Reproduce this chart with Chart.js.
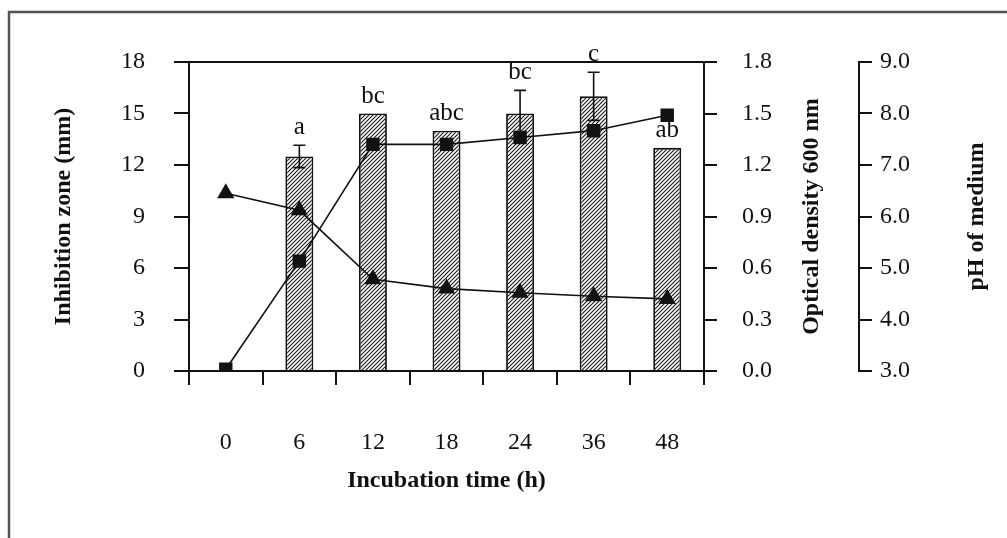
<!DOCTYPE html>
<html><head><meta charset="utf-8">
<script src="https://cdn.jsdelivr.net/npm/chart.js@4.4.1/dist/chart.umd.min.js"></script>
<style>html,body{margin:0;padding:0;background:#fff;overflow:hidden}canvas{display:block}</style>
</head><body>
<canvas id="c" width="1007" height="538"></canvas>
<script>
// ---- data ----
const categories = ['0', '6', '12', '18', '24', '36', '48'];
const inhibitionZone = [null, 12.5, 15, 14, 15, 16, 13];
const inhibitionError = [0, 0.65, 0, 0, 1.35, 1.4, 0];
const significance = ['', 'a', 'bc', 'abc', 'bc', 'c', 'ab'];
const opticalDensity = [0.01, 0.64, 1.32, 1.32, 1.36, 1.40, 1.49];
const phMedium = [6.45, 6.12, 4.78, 4.6, 4.52, 4.45, 4.4];
const zoneTicks = [0, 3, 6, 9, 12, 15, 18];
const zoneTickLabels = ['0', '3', '6', '9', '12', '15', '18'];
const odTicks = [0, 0.3, 0.6, 0.9, 1.2, 1.5, 1.8];
const odTickLabels = ['0.0', '0.3', '0.6', '0.9', '1.2', '1.5', '1.8'];
const phTicks = [3, 4, 5, 6, 7, 8, 9];
const phTickLabels = ['3.0', '4.0', '5.0', '6.0', '7.0', '8.0', '9.0'];
const titles = {
  x: 'Incubation time (h)',
  y: 'Inhibition zone (mm)',
  y2: 'Optical density 600 nm',
  y3: 'pH of medium'
};

const SERIF = "'Liberation Serif', 'Times New Roman', 'DejaVu Serif', serif";
const INK = '#111';

// hatch pattern
function makeHatch() {
  const s = 4;
  const c = document.createElement('canvas');
  c.width = s; c.height = s;
  const g = c.getContext('2d');
  g.fillStyle = '#fff'; g.fillRect(0, 0, s, s);
  g.strokeStyle = '#1a1a1a'; g.lineWidth = 1.15;
  g.beginPath();
  g.moveTo(-1, 1); g.lineTo(1, -1);
  g.moveTo(0, s); g.lineTo(s, 0);
  g.moveTo(s - 1, s + 1); g.lineTo(s + 1, s - 1);
  g.stroke();
  const ctx = document.getElementById('c').getContext('2d');
  return ctx.createPattern(c, 'repeat');
}

const framePlugin = {
  id: 'frame',
  beforeDraw(chart) {
    const ctx = chart.ctx;
    ctx.save();
    ctx.fillStyle = '#fff';
    ctx.fillRect(0, 0, chart.width, chart.height);
    ctx.strokeStyle = '#555';
    ctx.lineWidth = 2.5;
    ctx.beginPath();
    ctx.moveTo(9, chart.height);
    ctx.lineTo(9, 12);
    ctx.lineTo(chart.width, 12);
    ctx.stroke();
    ctx.restore();
  }
};

const errorBarPlugin = {
  id: 'errorBars',
  afterDatasetDraw(chart, args) {
    if (args.index !== 0) return;
    const ctx = chart.ctx, ys = chart.scales.y;
    ctx.save();
    ctx.strokeStyle = INK;
    ctx.lineWidth = 1.6;
    args.meta.data.forEach((bar, i) => {
      const v = inhibitionZone[i], e = inhibitionError[i];
      if (v == null || !e) return;
      const x = bar.x;
      const yt = ys.getPixelForValue(v + e), yb = ys.getPixelForValue(v - e);
      ctx.beginPath();
      ctx.moveTo(x, yt); ctx.lineTo(x, yb);
      ctx.moveTo(x - 6, yt); ctx.lineTo(x + 6, yt);
      ctx.moveTo(x - 6, yb); ctx.lineTo(x + 6, yb);
      ctx.stroke();
    });
    ctx.restore();
  },
  afterDatasetsDraw(chart) {
    const ctx = chart.ctx, ys = chart.scales.y;
    const meta = chart.getDatasetMeta(0);
    ctx.save();
    ctx.fillStyle = INK;
    ctx.font = '25px ' + SERIF;
    ctx.textAlign = 'center';
    ctx.textBaseline = 'alphabetic';
    meta.data.forEach((bar, i) => {
      const v = inhibitionZone[i];
      if (v == null || !significance[i]) return;
      const top = ys.getPixelForValue(v + (inhibitionError[i] || 0));
      ctx.fillText(significance[i], bar.x, top - 11);
    });
    ctx.restore();
  }
};

const rightTitlePlugin = {
  id: 'rightTitles',
  afterDraw(chart) {
    const ctx = chart.ctx, ca = chart.chartArea;
    const cy = (ca.top + ca.bottom) / 2;
    ctx.save();
    ctx.fillStyle = INK;
    ctx.font = 'bold 24px ' + SERIF;
    ctx.textAlign = 'center';
    ctx.textBaseline = 'middle';
    [[chart.scales.y2.left + 108, titles.y2], [chart.scales.y3.left + 118, titles.y3]].forEach(([x, t]) => {
      ctx.save();
      ctx.translate(x, cy);
      ctx.rotate(-Math.PI / 2);
      ctx.fillText(t, 0, 0);
      ctx.restore();
    });
    ctx.restore();
  }
};

const tickFont = { family: SERIF, size: 24 };

new Chart(document.getElementById('c'), {
  data: {
    labels: categories,
    datasets: [
      {
        type: 'bar',
        data: inhibitionZone,
        yAxisID: 'y',
        backgroundColor: makeHatch(),
        borderColor: INK,
        borderWidth: 1.8,
        borderSkipped: 'bottom',
        categoryPercentage: 1,
        barPercentage: 0.38,
        order: 3
      },
      {
        type: 'line',
        data: opticalDensity,
        yAxisID: 'y2',
        borderColor: INK,
        borderWidth: 1.6,
        backgroundColor: INK,
        pointStyle: 'rect',
        pointRadius: 9.5,
        pointBorderWidth: 0,
        tension: 0,
        order: 1
      },
      {
        type: 'line',
        data: phMedium,
        yAxisID: 'y3',
        borderColor: INK,
        borderWidth: 1.6,
        backgroundColor: INK,
        pointStyle: 'triangle',
        pointRadius: 10,
        pointBorderWidth: 0,
        tension: 0,
        order: 2
      }
    ]
  },
  options: {
    responsive: false,
    animation: false,
    devicePixelRatio: 1,
    layout: { padding: { top: 62, left: 0, right: 0, bottom: 0 } },
    plugins: { legend: { display: false }, tooltip: { enabled: false } },
    scales: {
      x: {
        type: 'category',
        offset: true,
        grid: { offset: true, drawOnChartArea: false, drawTicks: true, tickLength: 14, color: INK, lineWidth: 2 },
        border: { display: true, color: INK, width: 2 },
        ticks: { font: tickFont, color: INK, padding: 43, maxRotation: 0 },
        title: { display: true, text: titles.x, font: { family: SERIF, size: 24, weight: 'bold' }, color: INK, padding: { top: 0, bottom: 43 } },
        afterFit(s) { s.height = 538 - 371; }
      },
      y: {
        position: 'left',
        min: 0, max: 18,
        afterBuildTicks(s) { s.ticks = zoneTicks.map(v => ({ value: v })); },
        ticks: { font: tickFont, color: INK, padding: 29, callback: (v, i) => zoneTickLabels[i] },
        grid: {
          drawOnChartArea: true, drawTicks: true, tickLength: 15,
          color: ctx => (ctx.tick && ctx.tick.value === 18 ? INK : 'rgba(0,0,0,0)'),
          tickColor: INK, lineWidth: 2, tickWidth: 2
        },
        border: { display: true, color: INK, width: 2 },
        title: { display: true, text: titles.y, font: { family: SERIF, size: 24, weight: 'bold' }, color: INK, padding: { top: 49, bottom: 0 } },
        afterFit(s) { s.width = 189; }
      },
      y2: {
        position: 'right',
        weight: 0,
        min: 0, max: 1.8,
        afterBuildTicks(s) { s.ticks = odTicks.map(v => ({ value: v })); },
        ticks: { font: tickFont, color: INK, padding: 25, callback: (v, i) => odTickLabels[i] },
        grid: { drawOnChartArea: false, drawTicks: true, tickLength: 13, color: INK, lineWidth: 2 },
        border: { display: true, color: INK, width: 2 },
        afterFit(s) { s.width = 155; }
      },
      y3: {
        position: 'right',
        weight: 1,
        min: 3, max: 9,
        afterBuildTicks(s) { s.ticks = phTicks.map(v => ({ value: v })); },
        ticks: { font: tickFont, color: INK, padding: 8, callback: (v, i) => phTickLabels[i] },
        grid: { drawOnChartArea: false, drawTicks: true, tickLength: 13, color: INK, lineWidth: 2 },
        border: { display: true, color: INK, width: 2 },
        afterFit(s) { s.width = 1007 - 859; }
      }
    }
  },
  plugins: [framePlugin, errorBarPlugin, rightTitlePlugin]
});
</script>
</body></html>
